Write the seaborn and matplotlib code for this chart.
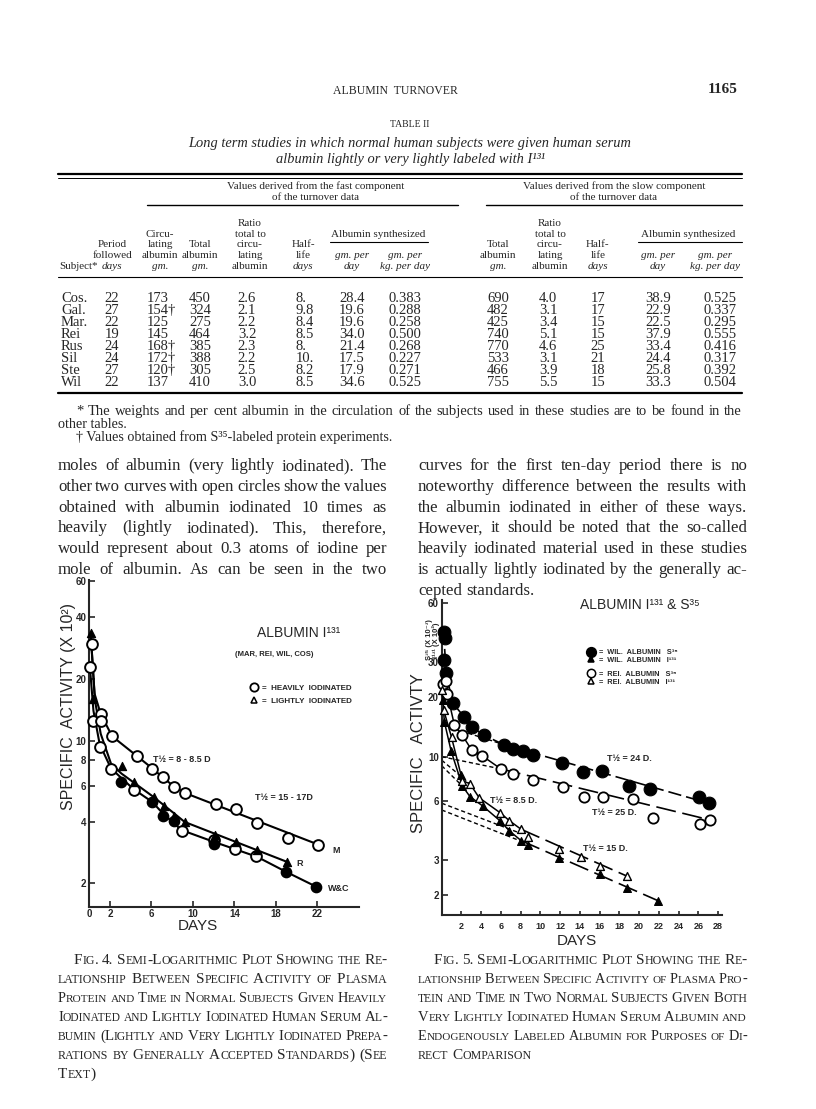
import matplotlib
matplotlib.use('Agg')
import matplotlib.pyplot as plt
from matplotlib.lines import Line2D
from matplotlib.ticker import NullLocator
import seaborn as sns

W, H = 816, 1109
SERIF = ['Liberation Serif', 'DejaVu Serif']
SANS = ['Liberation Sans', 'DejaVu Sans']

# ---- Table II data ----
subjects = ["Cos.", "Gal.", "Mar.", "Rei", "Rus", "Sil", "Ste", "Wil"]
period = ["22", "27", "22", "19", "24", "24", "27", "22"]
circ_alb = ["173", "154†", "125", "145", "168†", "172†", "120†", "137"]
total_fast = ["450", "324", "275", "464", "385", "388", "305", "410"]
ratio_fast = ["2.6", "2.1", "2.2", "3.2", "2.3", "2.2", "2.5", "3.0"]
half_fast = ["8.", "9.8", "8.4", "8.5", "8.", "10.", "8.2", "8.5"]
synth_day_fast = ["28.4", "19.6", "19.6", "34.0", "21.4", "17.5", "17.9", "34.6"]
synth_kg_fast = ["0.383", "0.288", "0.258", "0.500", "0.268", "0.227", "0.271", "0.525"]
total_slow = ["690", "482", "425", "740", "770", "533", "466", "755"]
ratio_slow = ["4.0", "3.1", "3.4", "5.1", "4.6", "3.1", "3.9", "5.5"]
half_slow = ["17", "17", "15", "15", "25", "21", "18", "15"]
synth_day_slow = ["38.9", "22.9", "22.5", "37.9", "33.4", "24.4", "25.8", "33.3"]
synth_kg_slow = ["0.525", "0.337", "0.295", "0.555", "0.416", "0.317", "0.392", "0.504"]

# ---- Fig. 4 data (days, specific activity) ----
m_line_days = [0.2, 0.5, 1.1, 2.2, 4.6, 6.1, 7.1, 8.2, 9.2, 22.1]
m_line_vals = [29.6, 17.0, 13.5, 10.5, 8.4, 7.3, 6.6, 5.95, 5.55, 3.1]
r_line_days = [0.13, 0.55, 1.1, 2.1, 3.1, 6.2, 8.2, 9.2, 19.1]
r_line_vals = [33.5, 15.7, 10.8, 7.7, 6.9, 5.3, 4.4, 4.0, 2.55]
wc_line_days = [0.06, 0.4, 1.0, 2.1, 4.25, 6.1, 7.1, 8.9, 12.0, 16.2, 19.0, 21.9]
wc_line_vals = [22.8, 14.0, 9.6, 7.3, 5.8, 5.0, 4.4, 3.65, 3.2, 2.7, 2.28, 1.93]
heavy_days = [0.06, 0.23, 0.4, 1.1, 1.1, 2.2, 4.6, 6.1, 7.1, 8.2, 9.2, 12.2, 14.2,
              16.2, 19.2, 22.1, 1.0, 2.1, 4.3, 8.9, 12.0, 14.1, 16.1]
heavy_vals = [23.0, 29.6, 12.4, 13.5, 12.4, 10.5, 8.4, 7.3, 6.6, 5.9, 5.55, 4.9, 4.65,
              3.95, 3.35, 3.1, 9.3, 7.3, 5.7, 3.6, 3.25, 2.95, 2.72]
light_days = [0.13, 0.35, 3.2, 4.3, 6.2, 7.2, 8.2, 9.2, 12.1, 14.2, 16.2, 19.1]
light_vals = [33.5, 16.0, 7.5, 6.3, 5.3, 4.8, 4.3, 4.0, 3.45, 3.2, 2.9, 2.55]
filled_days = [3.1, 6.1, 7.1, 8.2, 12.0, 19.0, 21.9]
filled_vals = [6.3, 5.0, 4.3, 4.05, 3.13, 2.28, 1.93]

# ---- Fig. 5 data ----
wil_s35_days = [0.27, 0.34, 0.27, 0.44, 1.1, 2.26, 3.1, 4.3, 6.3, 7.26, 8.2, 9.2, 12.2,
                14.3, 16.2, 19.0, 21.1, 26.1, 27.1]
wil_s35_vals = [42.8, 39.6, 30.8, 26.4, 18.7, 15.9, 14.1, 12.8, 11.5, 10.9, 10.7, 10.2, 9.25,
                8.4, 8.5, 7.14, 6.87, 6.24, 5.81]
rei_s35_days = [0.1, 0.44, 0.57, 1.28, 2.1, 3.04, 4.1, 6.0, 7.26, 9.2, 12.3, 14.4, 16.3,
                19.4, 21.4, 26.2, 27.2]
rei_s35_vals = [23.3, 24.1, 20.7, 14.5, 12.8, 10.8, 10.1, 8.67, 8.15, 7.62, 7.0, 6.24, 6.28,
                6.09, 4.92, 4.55, 4.79]
wil_i131_days = [0.1, 0.27, 0.95, 1.93, 2.1, 2.87, 4.15, 5.9, 6.86, 8.04, 8.7, 11.9, 16.0, 18.8, 21.96]
wil_i131_vals = [19.3, 15.0, 10.7, 8.08, 7.1, 6.28, 5.64, 4.75, 4.22, 3.77, 3.58, 3.07, 2.55, 2.16, 1.87]
rei_i131_days = [0.07, 0.2, 1.0, 2.1, 2.87, 3.8, 5.9, 6.86, 8.04, 8.7, 11.9, 14.1, 16.0, 18.8]
rei_i131_vals = [21.7, 17.2, 12.5, 7.57, 7.29, 6.2, 5.22, 4.75, 4.3, 3.92, 3.41, 3.12, 2.81, 2.49]

wil_s35_line_days = [0.3, 0.45, 1.1, 2.26, 3.1, 4.3, 6.3, 27.1]
wil_s35_line_vals = [35.0, 26.4, 18.7, 15.9, 14.1, 12.8, 11.5, 5.81]
rei_s35_fast_days = [0.44, 0.57, 1.28, 2.1, 3.04, 4.1, 6.0]
rei_s35_fast_vals = [24.1, 20.7, 14.5, 12.8, 10.8, 10.1, 8.67]
rei_s35_slow_days = [6.0, 27.2]
rei_s35_slow_vals = [8.67, 4.79]
wil_i131_fast_days = [0.1, 0.27, 0.95, 2.1, 2.87, 4.15, 5.9, 6.86, 8.04]
wil_i131_fast_vals = [19.3, 15.0, 10.7, 7.1, 6.28, 5.64, 4.75, 4.22, 3.77]
wil_i131_slow_days = [8.04, 21.96]
wil_i131_slow_vals = [3.77, 1.87]
rei_i131_fast_days = [0.07, 0.2, 1.0, 2.1, 2.87, 3.8, 5.9, 6.86, 8.04]
rei_i131_fast_vals = [21.7, 17.2, 12.5, 7.57, 7.29, 6.2, 5.22, 4.75, 4.3]
rei_i131_slow_days = [8.04, 18.8]
rei_i131_slow_vals = [4.3, 2.49]
extrap_lines = [([0, 6.3], [14.5, 11.5]), ([0, 6.0], [10.0, 8.67]),
                ([0, 2.87], [9.6, 7.29]), ([0, 2.1], [9.0, 7.1]),
                ([0, 8.0], [5.82, 4.1]), ([0, 8.0], [5.38, 3.75])]

# ---- page text ----
body_left = ["moles of albumin (very lightly iodinated).  The",
             "other two curves with open circles show the values",
             "obtained with albumin iodinated 10 times as",
             "heavily (lightly iodinated).  This, therefore,",
             "would represent about 0.3 atoms of iodine per",
             "mole of albumin.  As can be seen in the two"]
body_right = ["curves for the first ten-day period there is no",
              "noteworthy difference between the results with",
              "the albumin iodinated in either of these ways.",
              "However, it should be noted that the so-called",
              "heavily iodinated material used in these studies",
              "is actually lightly iodinated by the generally ac-",
              "cepted standards."]
cap4 = ["Fig. 4. Semi-Logarithmic Plot Showing the Re-",
        "lationship Between Specific Activity of Plasma",
        "Protein and Time in Normal Subjects Given Heavily",
        "Iodinated and Lightly Iodinated Human Serum Al-",
        "bumin (Lightly and Very Lightly Iodinated Prepa-",
        "rations by Generally Accepted Standards) (See",
        "Text)"]
cap5 = ["Fig. 5. Semi-Logarithmic Plot Showing the Re-",
        "lationship Between Specific Activity of Plasma Pro-",
        "tein and Time in Two Normal Subjects Given Both",
        "Very Lightly Iodinated Human Serum Albumin and",
        "Endogenously Labeled Albumin for Purposes of Di-",
        "rect Comparison"]

sns.set_theme(style='ticks')
plt.rcParams['font.family'] = SERIF
plt.rcParams['axes.linewidth'] = 1.5

fig = plt.figure(figsize=(W / 100, H / 100), dpi=100)
fig.patch.set_facecolor('white')
R = fig.canvas.get_renderer()


def fx(x):
    return x / W


def fy(y):
    return 1 - y / H


def txt(x, y, s, size, ha='left', family=SERIF, **kw):
    return fig.text(fx(x), fy(y), s, fontsize=size, ha=ha, va='baseline', family=family, **kw)


def hline(x0, x1, y, lw=0.8):
    fig.add_artist(Line2D([fx(x0), fx(x1)], [fy(y), fy(y)], transform=fig.transFigure,
                          color='black', lw=lw))


def sc_runs(word, big, small):
    runs = []
    for ch in word:
        c, sz = (ch.upper(), small) if ch.islower() else (ch, big)
        if runs and runs[-1][1] == sz:
            runs[-1][0] += c
        else:
            runs.append([c, sz])
    return runs


def line_of_words(x0, x1, y, s, size, justify=True, small=None, min_gap=3.0, **kw):
    words = s.split()
    pieces = []
    for w in words:
        runs = sc_runs(w, size, small) if small else [[w, size]]
        pieces.append([(txt(0, y, r, sz, **kw), sz) for r, sz in runs])

    def measure():
        return [[t.get_window_extent(R).width for t, _ in objs] for objs in pieces]

    widths = measure()
    total = sum(sum(w) for w in widths)
    n = len(words)
    room = x1 - x0 - (n - 1) * min_gap
    if total > room:
        k = room / total
        for objs in pieces:
            for t, sz in objs:
                t.set_fontsize(sz * k)
        widths = measure()
        total = sum(sum(w) for w in widths)
    if justify and n > 1:
        gap = (x1 - x0 - total) / (n - 1)
    else:
        gap = size * 0.33
    x = x0
    for objs, ws in zip(pieces, widths):
        for (t, _), w in zip(objs, ws):
            t.set_x(fx(x))
            x += w
        x += gap


# ---- header ----
txt(395, 94, "ALBUMIN  TURNOVER", 8.5, ha='center')
txt(738, 93, "1165", 11, ha='right', weight='bold')
txt(410, 127, "TABLE II", 7, ha='center')
txt(410, 147, "Long term studies in which normal human subjects were given human serum", 10.4,
    ha='center', style='italic')
txt(410, 162.5, "albumin lightly or very lightly labeled with I¹³¹", 10.4, ha='center', style='italic')

hline(58, 742, 174, 1.6)
hline(58, 742, 177.5, 0.7)

# ---- table header ----
hs = 8
txt(316, 189, "Values derived from the fast component", hs, ha='center')
txt(316, 199.5, "of the turnover data", hs, ha='center')
txt(614, 189, "Values derived from the slow component", hs, ha='center')
txt(614, 199.5, "of the turnover data", hs, ha='center')
hline(147, 458, 205, 1.0)
hline(486, 742, 205, 1.0)

header_cols = [
    (112, ["Period", "followed", "*days"]),
    (160, ["Circu-", "lating", "albumin", "*gm."]),
    (200, ["Total", "albumin", "*gm."]),
    (250, ["Ratio", "total to", "circu-", "lating", "albumin"]),
    (303, ["Half-", "life", "*days"]),
    (352, ["*gm. per", "*day"]),
    (405, ["*gm. per", "*kg. per day"]),
    (498, ["Total", "albumin", "*gm."]),
    (550, ["Ratio", "total to", "circu-", "lating", "albumin"]),
    (598, ["Half-", "life", "*days"]),
    (658, ["*gm. per", "*day"]),
    (715, ["*gm. per", "*kg. per day"]),
]
for cx, lines in header_cols:
    n = len(lines)
    for i, s in enumerate(lines):
        yy = 269 - (n - 1 - i) * 10.8
        style = 'italic' if s.startswith('*') else 'normal'
        txt(cx, yy, s.lstrip('*'), hs, ha='center', style=style)
txt(59, 269, "Subject*", hs)
txt(378, 237, "Albumin synthesized", hs, ha='center')
hline(330, 428, 242, 0.8)
txt(688, 237, "Albumin synthesized", hs, ha='center')
hline(638, 742, 242, 0.8)
hline(58, 742, 277, 0.8)

# ---- table body ----
ds = 10.5
for i in range(len(subjects)):
    yy = 302 + 12 * i
    txt(61, yy, subjects[i], ds)
    txt(112, yy, period[i], ds, ha='center')
    txt(147, yy, circ_alb[i], ds)
    txt(200, yy, total_fast[i], ds, ha='center')
    txt(247, yy, ratio_fast[i], ds, ha='center')
    txt(296, yy, half_fast[i], ds)
    txt(352, yy, synth_day_fast[i], ds, ha='center')
    txt(405, yy, synth_kg_fast[i], ds, ha='center')
    txt(498, yy, total_slow[i], ds, ha='center')
    txt(548, yy, ratio_slow[i], ds, ha='center')
    txt(598, yy, half_slow[i], ds, ha='center')
    txt(658, yy, synth_day_slow[i], ds, ha='center')
    txt(720, yy, synth_kg_slow[i], ds, ha='center')
hline(58, 742, 393, 1.6)

# ---- footnotes ----
line_of_words(76, 742, 415, "* The weights and per cent albumin in the circulation of the subjects used in these "
              "studies are to be found in the", 10.5)
txt(58, 428, "other tables.", 10.2)
txt(76, 441, "† Values obtained from S³⁵-labeled protein experiments.", 10.2)

# ---- body text ----
for i, s in enumerate(body_left):
    line_of_words(58, 387, 470 + 20.8 * i, s, 12.2)
for i, s in enumerate(body_right):
    line_of_words(418, 747, 470 + 20.8 * i, s, 12.2, justify=(i < len(body_right) - 1))

# ---- captions (small caps) ----
for i, s in enumerate(cap4):
    x0 = 74 if i == 0 else 58
    line_of_words(x0, 387, 964 + 19 * i, s, 11, justify=(i < len(cap4) - 1), small=8.6)
for i, s in enumerate(cap5):
    x0 = 434 if i == 0 else 418
    line_of_words(x0, 747, 964 + 19 * i, s, 11, justify=(i < len(cap5) - 1), small=8.6)


def style_axis(ax, yt, xt):
    sns.despine(ax=ax)
    ax.set_yscale('log')
    ax.yaxis.set_minor_locator(NullLocator())
    ax.set_yticks(yt)
    ax.set_yticklabels([str(v) for v in yt])
    ax.set_xticks(xt)
    ax.set_xticklabels([str(v) for v in xt])
    ax.tick_params(direction='in', length=4, width=1.2, pad=2, labelsize=7)
    for lab in ax.get_xticklabels() + ax.get_yticklabels():
        lab.set_family(SANS)
        lab.set_fontweight('bold')
    ax.set_xlabel('')
    ax.set_ylabel('')
    ax.set_facecolor('white')
    ax.grid(False)


# ---- Fig. 4 ----
ax4 = fig.add_axes([fx(89.3), fy(906.7), 26 * 10.36 / W, (906.7 - 580) / H])
for d, v in [(m_line_days, m_line_vals), (r_line_days, r_line_vals), (wc_line_days, wc_line_vals)]:
    sns.lineplot(x=d, y=v, ax=ax4, color='black', lw=1.5, sort=False, estimator=None)
sns.scatterplot(x=heavy_days, y=heavy_vals, ax=ax4, marker='o', s=60, color='white',
                edgecolor='black', linewidth=1.4, zorder=3, clip_on=False)
sns.scatterplot(x=filled_days, y=filled_vals, ax=ax4, marker='o', s=55, color='black',
                edgecolor='black', linewidth=1.0, zorder=4, clip_on=False)
sns.scatterplot(x=light_days, y=light_vals, ax=ax4, marker='^', s=35, color='black',
                edgecolor='black', linewidth=0.8, zorder=5, clip_on=False)
style_axis(ax4, [2, 4, 6, 8, 10, 20, 40, 60], [0, 2, 6, 10, 14, 18, 22])
ax4.set_xlim(0, 26)
ax4.set_ylim(1.54, 61)

txt(73, 706, "SPECIFIC  ACTIVITY (X 10²)", 11.5, ha='center', family=SANS, rotation=90,
    rotation_mode='anchor')
txt(198, 930, "DAYS", 11, ha='center', family=SANS)
txt(257, 637, "ALBUMIN I¹³¹", 10, family=SANS)
txt(235, 656, "(MAR, REI, WIL, COS)", 5.5, family=SANS, weight='bold')
fig.add_artist(Line2D([fx(254)], [fy(687)], transform=fig.transFigure, marker='o', ms=6,
                      mfc='white', mec='black', mew=1.3))
txt(262, 690, "=  HEAVILY  IODINATED", 5.8, family=SANS, weight='bold')
fig.add_artist(Line2D([fx(254)], [fy(700)], transform=fig.transFigure, marker='^', ms=5,
                      mfc='white', mec='black', mew=1.1))
txt(262, 703, "=  LIGHTLY  IODINATED", 5.8, family=SANS, weight='bold')
txt(153, 762, "T½ = 8 - 8.5 D", 6.5, family=SANS, weight='bold')
txt(255, 800, "T½ = 15 - 17D", 6.5, family=SANS, weight='bold')
txt(332, 853, "M", 6.5, family=SANS, weight='bold')
txt(296, 866, "R", 6.5, family=SANS, weight='bold')
txt(328, 891, "W&C", 6.5, family=SANS, weight='bold')

# ---- Fig. 5 ----
ax5 = fig.add_axes([fx(441.7), fy(915), 28.4 * 9.87 / W, (915 - 600) / H])
for d, v in extrap_lines:
    sns.lineplot(x=d, y=v, ax=ax5, color='black', lw=1.0, sort=False, estimator=None,
                 linestyle=(0, (3, 2)))
sns.lineplot(x=wil_s35_line_days, y=wil_s35_line_vals, ax=ax5, color='black', lw=1.2,
             sort=False, estimator=None, linestyle=(0, (8, 3)))
sns.lineplot(x=rei_s35_fast_days, y=rei_s35_fast_vals, ax=ax5, color='black', lw=1.1,
             sort=False, estimator=None)
sns.lineplot(x=rei_s35_slow_days, y=rei_s35_slow_vals, ax=ax5, color='black', lw=1.2,
             sort=False, estimator=None, linestyle=(0, (12, 4)))
for d, v in [(wil_i131_fast_days, wil_i131_fast_vals), (rei_i131_fast_days, rei_i131_fast_vals)]:
    sns.lineplot(x=d, y=v, ax=ax5, color='black', lw=1.1, sort=False, estimator=None)
for d, v in [(wil_i131_slow_days, wil_i131_slow_vals), (rei_i131_slow_days, rei_i131_slow_vals)]:
    sns.lineplot(x=d, y=v, ax=ax5, color='black', lw=1.2, sort=False, estimator=None,
                 linestyle=(0, (12, 4)))
sns.scatterplot(x=wil_s35_days, y=wil_s35_vals, ax=ax5, marker='o', s=85, color='black',
                edgecolor='black', zorder=4, clip_on=False)
sns.scatterplot(x=rei_s35_days, y=rei_s35_vals, ax=ax5, marker='o', s=55, color='white',
                edgecolor='black', linewidth=1.3, zorder=4, clip_on=False)
sns.scatterplot(x=wil_i131_days, y=wil_i131_vals, ax=ax5, marker='^', s=32, color='black',
                edgecolor='black', linewidth=0.8, zorder=5, clip_on=False)
sns.scatterplot(x=rei_i131_days, y=rei_i131_vals, ax=ax5, marker='^', s=32, color='white',
                edgecolor='black', linewidth=1.0, zorder=5, clip_on=False)
style_axis(ax5, [2, 3, 6, 10, 20, 30, 60], list(range(2, 29, 2)))
ax5.tick_params(axis='x', length=3, pad=5, labelsize=6.5)
ax5.set_xlim(0, 28.4)
ax5.set_ylim(1.587, 61.8)

txt(423, 753, "SPECIFIC   ACTIVTY", 12, ha='center', family=SANS, rotation=90,
    rotation_mode='anchor')
txt(431, 640, "S³⁵ (X 10⁻³)", 5.5, ha='center', family=SANS, weight='bold', rotation=90,
    rotation_mode='anchor')
txt(438, 640, "I¹³¹ (X 10²)", 5.5, ha='center', family=SANS, weight='bold', rotation=90,
    rotation_mode='anchor')
txt(577, 945, "DAYS", 11, ha='center', family=SANS)
txt(580, 609, "ALBUMIN I¹³¹ & S³⁵", 10, family=SANS)
legend5 = [(652, 'o', 'black', 7, "=  WIL.  ALBUMIN   S³⁵"),
           (659, '^', 'black', 4.5, "=  WIL.  ALBUMIN   I¹³¹"),
           (673, 'o', 'white', 6, "=  REI.  ALBUMIN   S³⁵"),
           (681, '^', 'white', 4.5, "=  REI.  ALBUMIN   I¹³¹")]
for yy, mk, fc, ms, lab in legend5:
    fig.add_artist(Line2D([fx(591)], [fy(yy)], transform=fig.transFigure, marker=mk, ms=ms,
                          mfc=fc, mec='black', mew=1.1))
    txt(599, yy + 2.5, lab, 5.3, family=SANS, weight='bold')
txt(607, 761, "T½ = 24 D.", 6.5, family=SANS, weight='bold')
txt(592, 815, "T½ = 25 D.", 6.5, family=SANS, weight='bold')
txt(490, 803, "T½ = 8.5 D.", 6.5, family=SANS, weight='bold')
txt(583, 851, "T½ = 15 D.", 6.5, family=SANS, weight='bold')

fig.savefig('out.png', dpi=100, facecolor='white')
